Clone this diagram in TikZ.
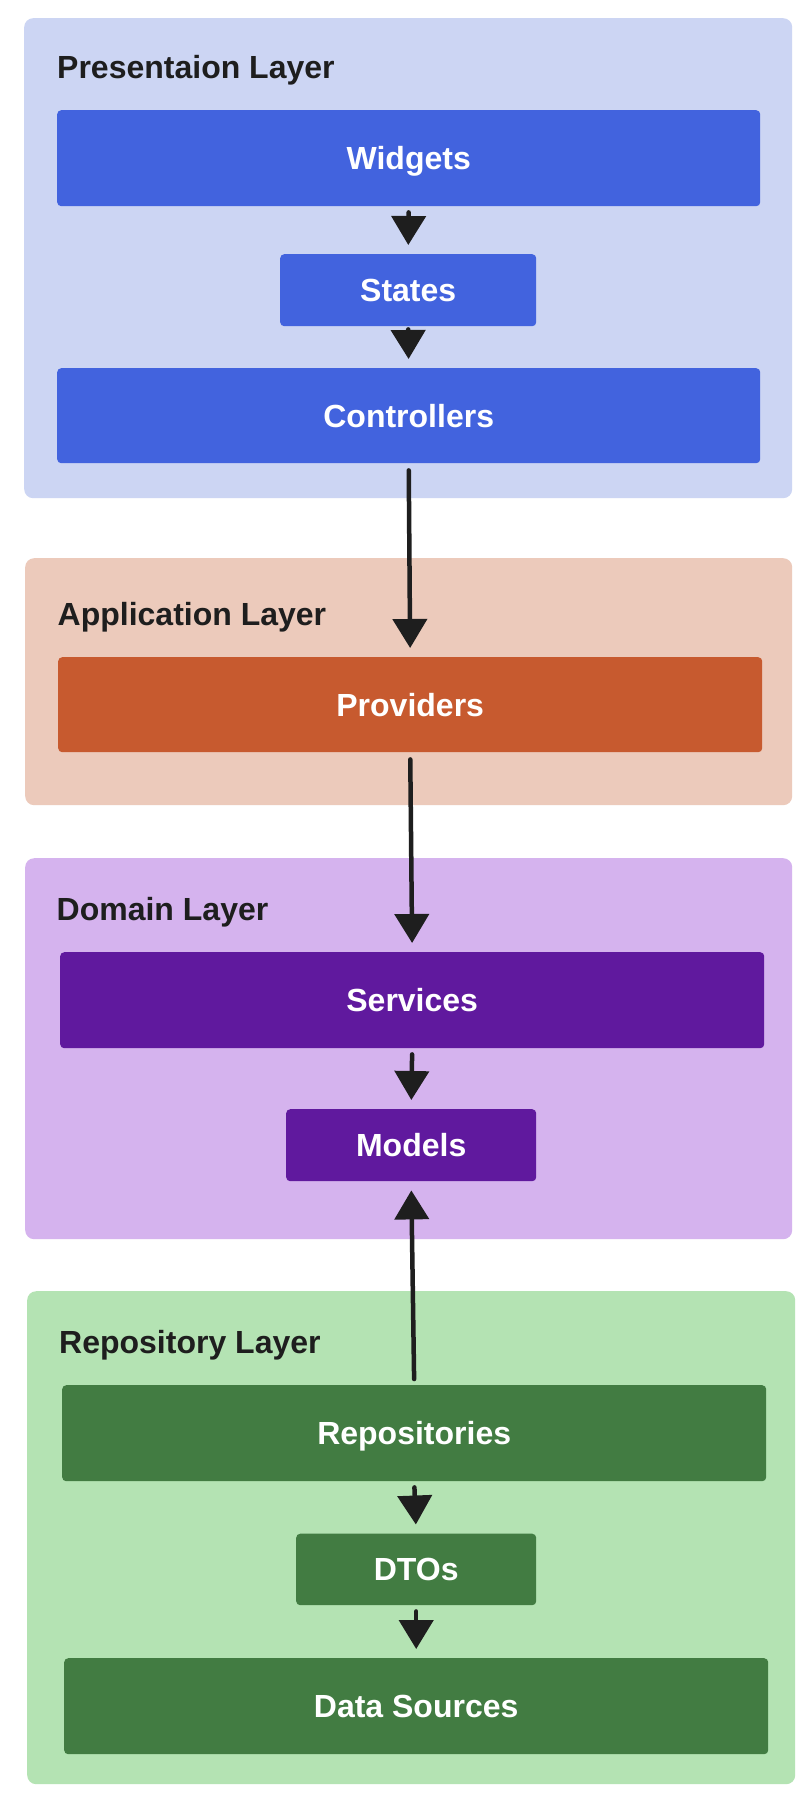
\documentclass[tikz,border=0pt]{standalone}
\usepackage{fontspec}
\setmainfont{Liberation Sans}
\usetikzlibrary{arrows.meta}
\definecolor{ink}{HTML}{1E1E1E}
\definecolor{presbg}{HTML}{CCD5F3}
\definecolor{presfg}{HTML}{4263DE}
\definecolor{appbg}{HTML}{ECCABB}
\definecolor{appfg}{HTML}{C75A2F}
\definecolor{dombg}{HTML}{D5B3EE}
\definecolor{domfg}{HTML}{60199E}
\definecolor{repbg}{HTML}{B4E3B3}
\definecolor{repfg}{HTML}{427C42}
\tikzset{
  layerbox/.style={draw=none, rounded corners=9pt, inner sep=0pt, anchor=north west},
  ttl/.style={anchor=base west, inner sep=0pt, text=ink, font=\fontsize{32}{38}\selectfont\bfseries},
  blk/.style={draw=none, rounded corners=4pt, inner sep=0pt, anchor=north west, text=white,
    font=\fontsize{32}{38}\selectfont\bfseries, text height=23pt, text depth=0pt, align=center},
  arr/.style={draw=ink, line width=4.5pt, line cap=round, -{Triangle[length=29pt,width=34pt]},
    shorten <=6pt, shorten >=9pt}
}
\begin{document}
\begin{tikzpicture}[x=1pt,y=-1pt]
\path[use as bounding box, fill=white] (0,0) rectangle (806,1793);
% layers
\node[layerbox, fill=presbg, minimum width=768pt, minimum height=480pt] (pres) at (24,18) {};
\node[layerbox, fill=appbg, minimum width=767pt, minimum height=247pt] (app) at (25,558) {};
\node[layerbox, fill=dombg, minimum width=767pt, minimum height=381pt] (dom) at (25,858) {};
\node[layerbox, fill=repbg, minimum width=768pt, minimum height=493pt] (rep) at (27,1291) {};
% titles
\node[ttl] (tpres) at (57,78) {Presentaion Layer};
\node[ttl] (tapp) at (57.5,625) {Application Layer};
\node[ttl] (tdom) at (56.5,920) {Domain Layer};
\node[ttl] (trep) at (59,1353) {Repository Layer};
% blocks
\node[blk, fill=presfg, minimum width=703pt, minimum height=96pt] (wid) at (57,110) {Widgets};
\node[blk, fill=presfg, minimum width=256pt, minimum height=72pt] (sta) at (280,254) {States};
\node[blk, fill=presfg, minimum width=703pt, minimum height=95pt] (con) at (57,368) {Controllers};
\node[blk, fill=appfg, minimum width=704pt, minimum height=95pt] (pro) at (58,657) {Providers};
\node[blk, fill=domfg, minimum width=704pt, minimum height=96pt] (ser) at (60,952) {Services};
\node[blk, fill=domfg, minimum width=250pt, minimum height=72pt] (mod) at (286,1109) {Models};
\node[blk, fill=repfg, minimum width=704pt, minimum height=96pt] (rps) at (62,1385) {Repositories};
\node[blk, fill=repfg, minimum width=240pt, minimum height=71.5pt] (dto) at (296,1533.5) {DTOs};
\node[blk, fill=repfg, minimum width=704pt, minimum height=96pt] (dsr) at (64,1658) {Data Sources};
% connectors
\draw[arr] (wid.south) -- (sta.north);
\draw[arr, shorten <=3pt] (sta.south) -- (con.north);
\draw[arr, shorten <=7pt] (con.south) -- (pro.north);
\draw[arr, shorten <=7pt] (pro.south) -- (ser.north);
\draw[arr] (ser.south) -- (mod.north);
\draw[arr] (rps.north) -- (mod.south);
\draw[arr] (rps.south) -- (dto.north);
\draw[arr] (dto.south) -- (dsr.north);
\end{tikzpicture}
\end{document}
